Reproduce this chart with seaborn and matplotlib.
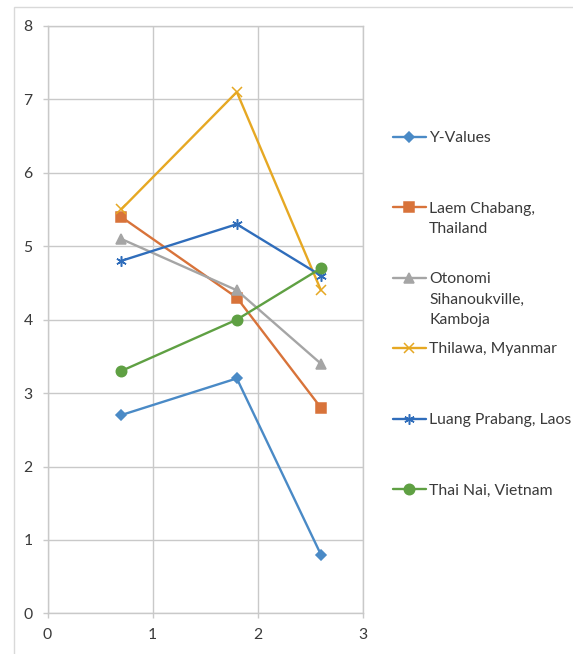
import matplotlib
matplotlib.use("Agg")
import matplotlib.pyplot as plt
from matplotlib.patches import Rectangle
import seaborn as sns
import pandas as pd

# Data
x_values = [0.7, 1.8, 2.6]
series_names = [
    "Y-Values",
    "Laem Chabang,\nThailand",
    "Otonomi\nSihanoukville,\nKamboja",
    "Thilawa, Myanmar",
    "Luang Prabang, Laos",
    "Thai Nai, Vietnam",
]
y_values = [2.7, 3.2, 0.8]
laem_chabang = [5.4, 4.3, 2.8]
otonomi = [5.1, 4.4, 3.4]
thilawa = [5.5, 7.1, 4.4]
luang_prabang = [4.8, 5.3, 4.6]
thai_nai = [3.3, 4.0, 4.7]
all_series = [y_values, laem_chabang, otonomi, thilawa, luang_prabang, thai_nai]

x_ticks = [0, 1, 2, 3]
y_ticks = [0, 1, 2, 3, 4, 5, 6, 7, 8]

colors = ["#4A8AC6", "#D8733A", "#A5A5A5", "#E6A823", "#2F6DBB", "#5FA043"]
markers = ["D", "s", "^", "x", (6, 2, 0), "o"]
marker_sizes = [5, 7.5, 7.5, 7, 7.5, 7.5]

FS = 11.3
TEXT_C = "#3A3A3A"

sns.set_theme(style="white")
plt.rcParams["font.family"] = ["Lato", "DejaVu Sans"]

W, H = 573, 654
fig = plt.figure(figsize=(W / 100, H / 100), dpi=100)
ax = fig.add_axes([47.5 / W, 1 - 613.4 / H, (363 - 47.5) / W, (613.4 - 25.9) / H])

for name, ys, c, m, ms in zip(series_names, all_series, colors, markers, marker_sizes):
    df = pd.DataFrame({"x": x_values, "y": ys})
    sns.lineplot(data=df, x="x", y="y", color=c, marker=m, markersize=ms,
                 markeredgecolor=c, markerfacecolor=c, markeredgewidth=1.1,
                 linewidth=1.7, sort=False, ax=ax, label=name)
if ax.get_legend():
    ax.get_legend().remove()

grid_c = "#C9C9C9"
ax.set_xlim(0, 3)
ax.set_ylim(0, 8)
ax.set_xticks(x_ticks)
ax.set_yticks(y_ticks)
ax.set_xlabel("")
ax.set_ylabel("")
ax.grid(True, color=grid_c, linewidth=1.0)
ax.set_axisbelow(True)
for s in ax.spines.values():
    s.set_color(grid_c)
    s.set_linewidth(1.0)
ax.tick_params(axis="both", which="both", length=3.3, width=1.0, color=grid_c,
               labelsize=FS, labelcolor=TEXT_C, pad=7.5,
               bottom=True, left=True)

# Legend: first line of each label beside its marker, continuation lines below
handles = list(ax.lines)
first_lines = [n.split("\n")[0] for n in series_names]
leg = fig.legend(
    handles, first_lines, loc="upper left",
    bbox_to_anchor=(393 / W, 1 - 131 / H), frameon=False,
    fontsize=FS, labelspacing=3.6, handlelength=2.1, handletextpad=0.2,
    borderpad=0, borderaxespad=0,
)
for t in leg.get_texts():
    t.set_color(TEXT_C)

for text_artist, name in zip(leg.get_texts(), series_names):
    extra = name.split("\n")[1:]
    for i, line_txt in enumerate(extra, start=1):
        ann = plt.Annotation(
            line_txt, xy=(0, 0.5), xycoords=text_artist,
            xytext=(0, -20.5 * i), textcoords="offset pixels",
            ha="left", va="center", fontsize=FS, color=TEXT_C,
        )
        ann.set_zorder(10)
        fig.add_artist(ann)

# Chart area border
fig.add_artist(Rectangle((13.5 / W, -0.05), 1.0, 1 - 7 / H + 0.05,
                         transform=fig.transFigure, fill=False,
                         edgecolor="#D9D9D9", linewidth=1.0))

fig.savefig("out.png", dpi=100)
